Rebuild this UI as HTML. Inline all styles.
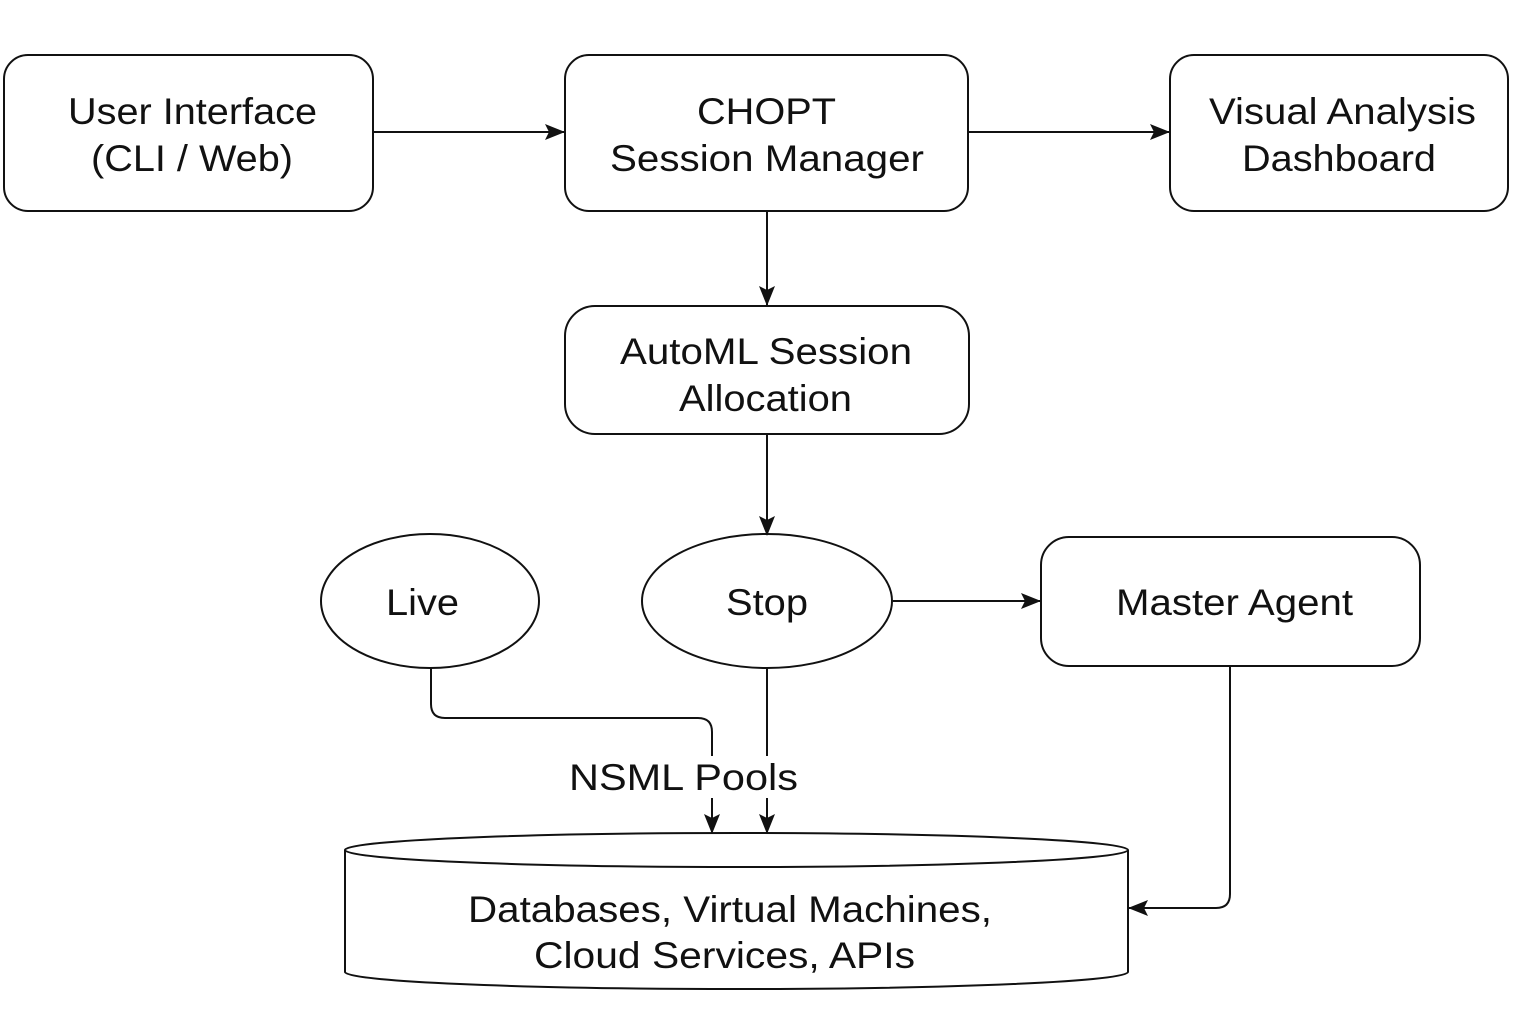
<!DOCTYPE html>
<html><head><meta charset="utf-8"><style>
html,body{margin:0;padding:0;background:#fff;}
svg{display:block;}
text{font-family:"Liberation Sans",Arial,sans-serif;font-size:37px;fill:#111;text-anchor:middle;}
</style></head><body>
<svg width="1536" height="1024" viewBox="0 0 1536 1024" xmlns="http://www.w3.org/2000/svg">
<defs>
<marker id="a" markerWidth="20" markerHeight="16" refX="19" refY="8" orient="auto" markerUnits="userSpaceOnUse">
<path d="M0,0 L20,8 L0,16 L4,8 Z" fill="#111"/>
</marker>
</defs>
<g fill="#fff" stroke="#111" stroke-width="2">
<rect x="4" y="55" width="369" height="156" rx="24"/>
<rect x="565" y="55" width="403" height="156" rx="24"/>
<rect x="1170" y="55" width="338" height="156" rx="24"/>
<rect x="565" y="306" width="404" height="128" rx="30"/>
<ellipse cx="430" cy="601" rx="109" ry="67"/>
<ellipse cx="767" cy="601" rx="125" ry="67"/>
<rect x="1041" y="537" width="379" height="129" rx="28"/>
<path d="M345,850 L345,972 A391.5,17 0 0 0 1128,972 L1128,850"/>
<ellipse cx="736.5" cy="850" rx="391.5" ry="17"/>
</g>
<g fill="none" stroke="#111" stroke-width="2" marker-end="url(#a)">
<line x1="373" y1="132" x2="564" y2="132"/>
<line x1="968" y1="132" x2="1169" y2="132"/>
<line x1="767" y1="211" x2="767" y2="305"/>
<line x1="767" y1="434" x2="767" y2="535"/>
<line x1="893" y1="601" x2="1040" y2="601"/>
<path d="M431,668 L431,704 Q431,718 445,718 L698,718 Q712,718 712,732 L712,833"/>
<line x1="767" y1="668" x2="767" y2="833"/>
<path d="M1230,666 L1230,894 Q1230,908 1216,908 L1129,908"/>
</g>
<rect x="566" y="756" width="236" height="42" fill="#fff"/>
<g lengthAdjust="spacingAndGlyphs">
<text x="192.5" y="124" textLength="249" lengthAdjust="spacingAndGlyphs">User Interface</text>
<text x="192" y="171" textLength="202" lengthAdjust="spacingAndGlyphs">(CLI / Web)</text>
<text x="766.5" y="124" textLength="139" lengthAdjust="spacingAndGlyphs">CHOPT</text>
<text x="767" y="171" textLength="314" lengthAdjust="spacingAndGlyphs">Session Manager</text>
<text x="1342.5" y="124" textLength="267" lengthAdjust="spacingAndGlyphs">Visual Analysis</text>
<text x="1339" y="171" textLength="194" lengthAdjust="spacingAndGlyphs">Dashboard</text>
<text x="766" y="364" textLength="292" lengthAdjust="spacingAndGlyphs">AutoML Session</text>
<text x="765.5" y="411" textLength="173" lengthAdjust="spacingAndGlyphs">Allocation</text>
<text x="422.5" y="615" textLength="73" lengthAdjust="spacingAndGlyphs">Live</text>
<text x="767" y="615" textLength="82" lengthAdjust="spacingAndGlyphs">Stop</text>
<text x="1234.5" y="615" textLength="237" lengthAdjust="spacingAndGlyphs">Master Agent</text>
<text x="683.5" y="790" textLength="229" lengthAdjust="spacingAndGlyphs">NSML Pools</text>
<text x="730" y="922" textLength="524" lengthAdjust="spacingAndGlyphs">Databases, Virtual Machines,</text>
<text x="724.5" y="968" textLength="381" lengthAdjust="spacingAndGlyphs">Cloud Services, APIs</text>
</g>
</svg>
</body></html>
